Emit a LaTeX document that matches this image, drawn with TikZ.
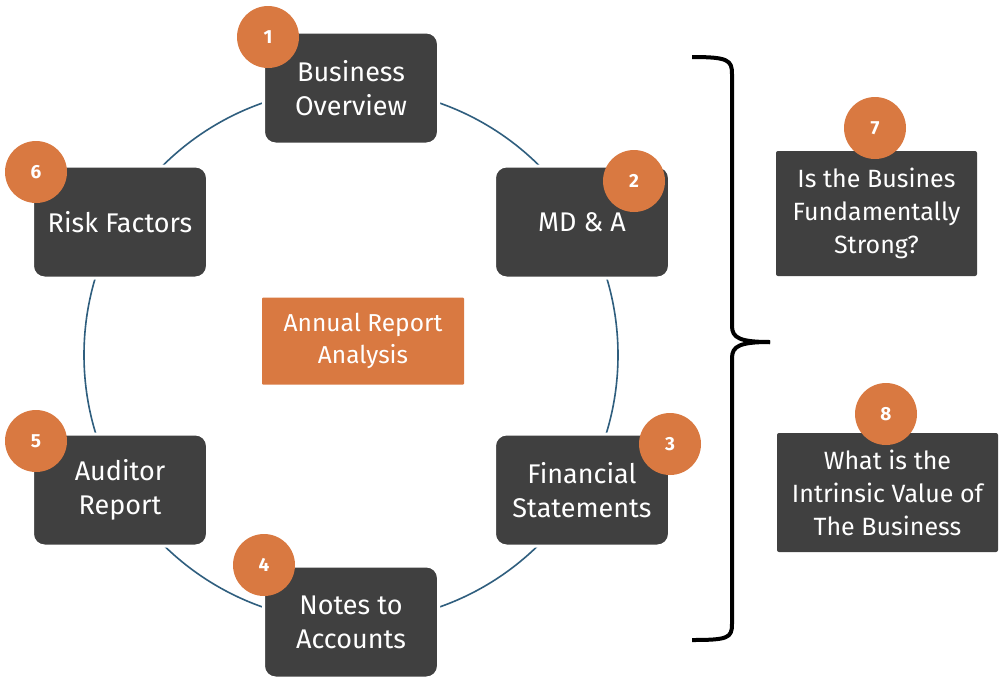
\documentclass[tikz,border=0pt]{standalone}
\usepackage{fontspec}
\setmainfont{Fira Sans}
\definecolor{boxgray}{HTML}{404040}
\definecolor{badgeor}{HTML}{D97941}
\definecolor{ringblue}{HTML}{2F5E7E}
\begin{document}
\begin{tikzpicture}[x=1pt,y=-1pt,
  stepbox/.style={fill=boxgray, draw=white, line width=3pt, rounded corners=12pt,
    minimum width=175pt, minimum height=112pt, text=white, align=center,
    font=\fontsize{27}{34}\selectfont, inner sep=0pt},
  qbox/.style={fill=boxgray, rounded corners=2pt, text=white, align=center,
    font=\fontsize{25}{33}\selectfont, inner sep=0pt},
  badge/.style={circle, fill=badgeor, minimum size=62pt, inner sep=0pt,
    text=white, font=\fontsize{19}{20}\selectfont\bfseries},
  centerbox/.style={fill=badgeor, rounded corners=1pt, text=white, align=center,
    minimum width=202pt, minimum height=87pt, inner sep=0pt,
    font=\fontsize{24.5}{32}\selectfont},
  ring/.style={draw=ringblue, line width=1.6pt},
  bracepath/.style={draw=black, line width=4pt, line join=round}
]
\useasboundingbox (0,0) rectangle (1004,686);
\fill[white] (0,0) rectangle (1004,686);

\coordinate (ctr) at (351,355);
\draw[ring] (ctr) circle [radius=267];

\node[stepbox] (bo) at (351,88) {Business\\Overview};
\node[stepbox] (mda) at (582,222) {MD \& A};
\node[stepbox] (fs) at (582,490) {Financial\\Statements};
\node[stepbox] (na) at (351,622) {Notes to\\Accounts};
\node[stepbox] (ar) at (120,490) {Auditor\\Report};
\node[stepbox] (rf) at (120,222) {Risk Factors};

\node[centerbox] (ara) at (363,341) {Annual Report\\Analysis};

\node[badge] (b1) at (268,37) {1};
\node[badge] (b2) at (634,181) {2};
\node[badge] (b3) at (670,444) {3};
\node[badge] (b4) at (264,565) {4};
\node[badge] (b5) at (36,441) {5};
\node[badge] (b6) at (36,172) {6};

\node[qbox, minimum width=201pt, minimum height=125pt] (q7) at (876.5,213.5) {Is the Busines\\Fundamentally\\Strong?};
\node[qbox, minimum width=221pt, minimum height=119pt] (q8) at (887.5,492.5) {What is the\\Intrinsic Value of\\The Business};
\node[badge] (b7) at (875,128) {7};
\node[badge] (b8) at (886,414) {8};

\coordinate (brtop) at (692,57);
\coordinate (brtip) at (770,342);
\coordinate (brbot) at (692,640);
\draw[bracepath] (brtop) .. controls (728,57) and (732,60) .. (732,74)
  -- (732,326) .. controls (732,338) and (740,342) .. (brtip);
\draw[bracepath] (brtip) .. controls (740,342) and (732,346) .. (732,358)
  -- (732,624) .. controls (732,638) and (728,640) .. (brbot);
\end{tikzpicture}
\end{document}
